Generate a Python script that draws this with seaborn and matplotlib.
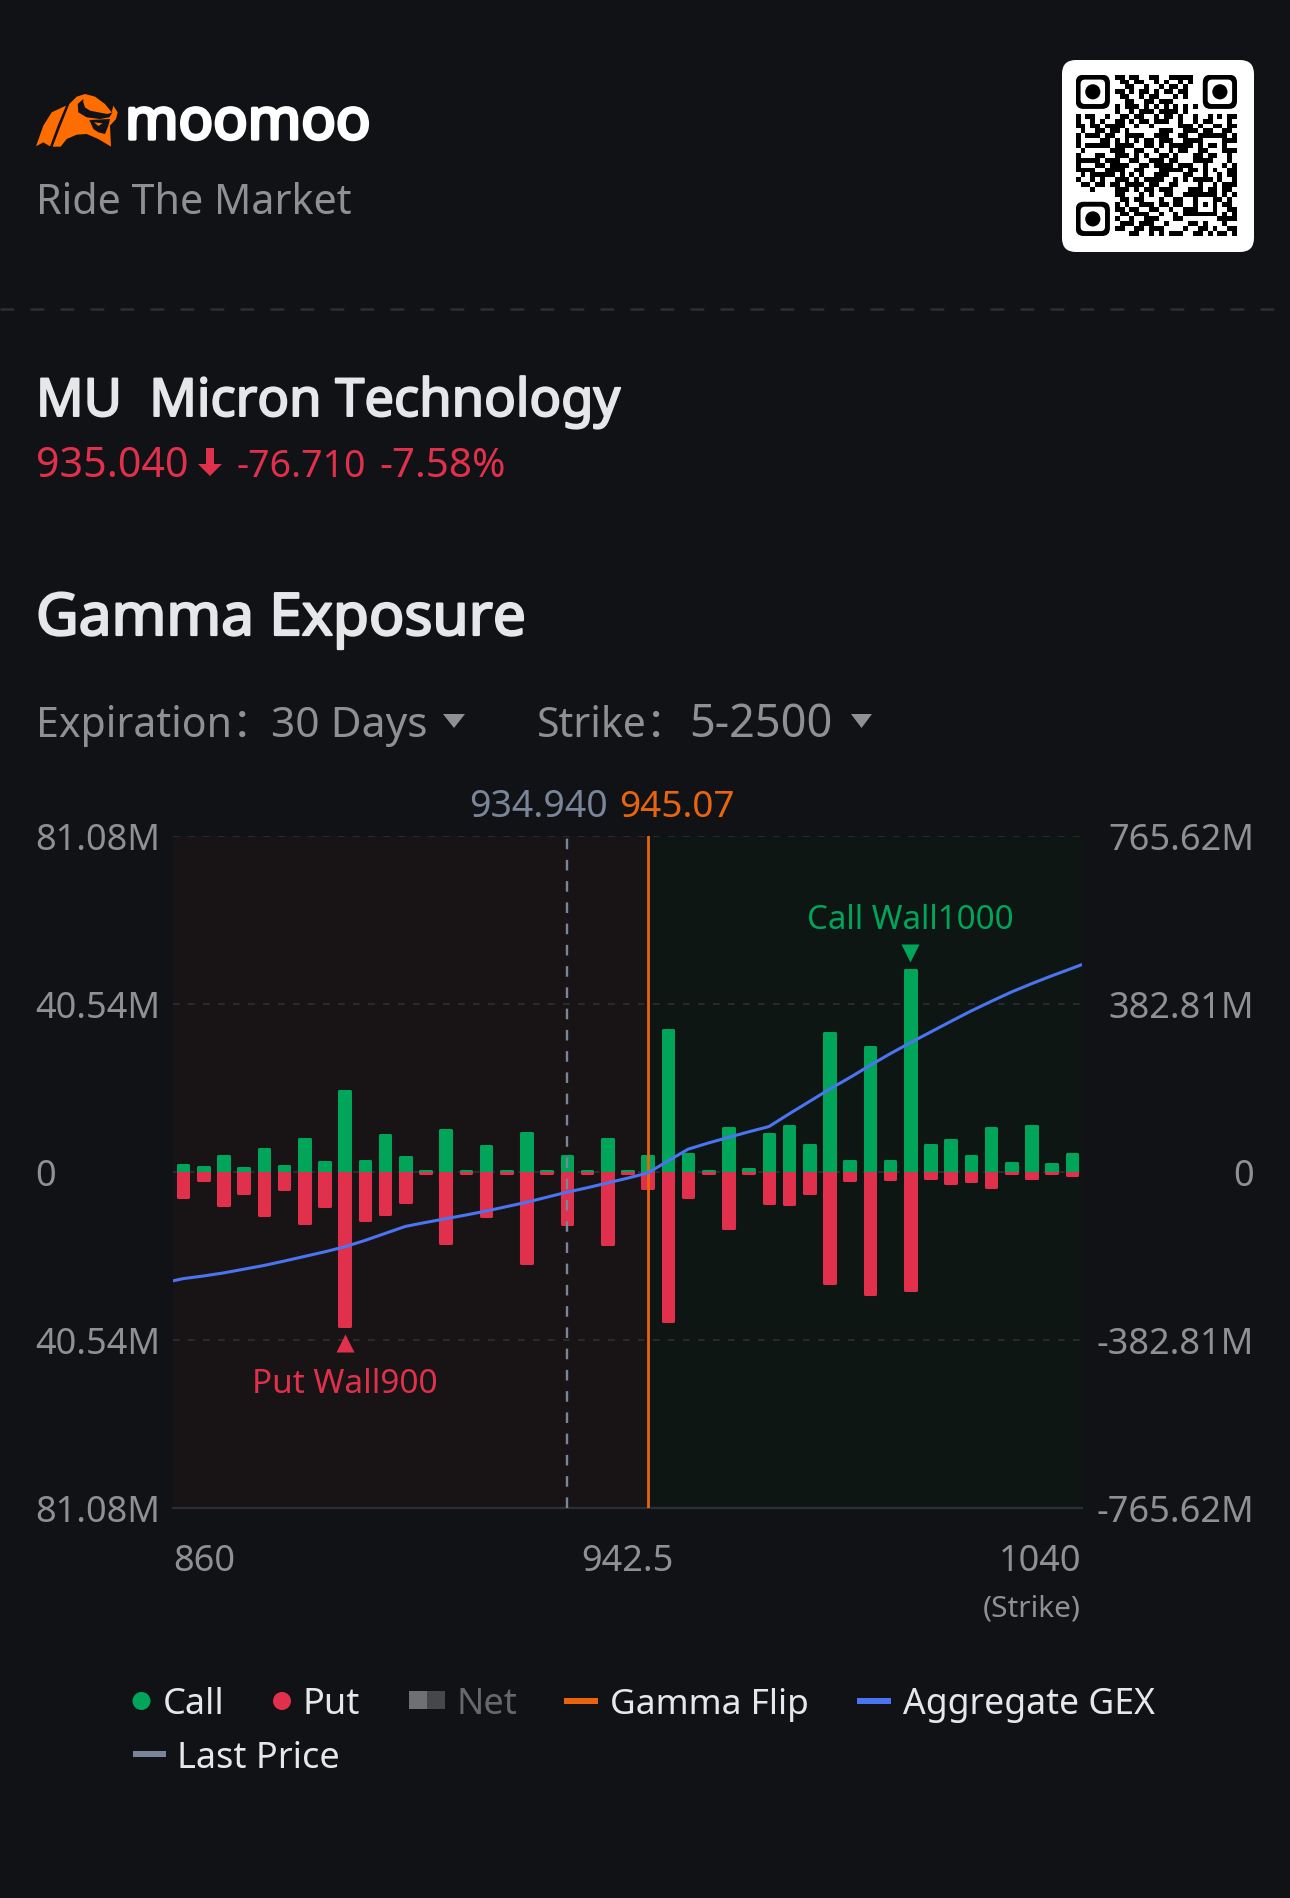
import numpy as np
import pandas as pd
import matplotlib
matplotlib.use("Agg")
import matplotlib.pyplot as plt
import matplotlib.patheffects as pe
import seaborn as sns
from matplotlib.colors import ListedColormap
from matplotlib.patches import FancyBboxPatch, Polygon, Rectangle, Circle

W, H = 1290, 1899

# data (millions)
strikes = ["860", "865", "870", "875", "880", "885", "890", "895", "900", "905", "910", "915",
           "917.5", "920", "922.5", "925", "927.5", "930", "932.5", "935", "937.5", "940", "942.5", "945",
           "950", "955", "957.5", "960", "962.5", "965", "970", "975", "980", "985", "990", "995", "1000",
           "1005", "1010", "1015", "1020", "1025", "1030", "1035", "1040"]
call_gex = [2.1, 1.5, 4.35, 1.45, 6.0, 1.9, 8.4, 2.7, 19.8, 3.1, 9.35, 3.9,
            0.7, 10.5, 0.7, 6.7, 0.7, 9.8, 0.7, 4.3, 0.7, 8.3, 0.7, 4.35,
            34.6, 4.75, 0.7, 10.9, 1.2, 9.6, 11.4, 6.9, 34.0, 3.1, 30.5, 3.1, 49.2,
            6.8, 8.2, 4.3, 11.0, 2.6, 11.4, 2.3, 4.75]
put_gex = [-6.4, -2.3, -8.4, -5.5, -10.8, -4.4, -12.7, -8.6, -37.5, -12.0, -10.6, -7.7,
           -0.6, -17.5, -0.6, -10.9, -0.6, -22.3, -0.6, -13.0, -0.6, -17.8, -0.6, -4.2,
           -36.4, -6.5, -0.6, -13.8, -0.6, -7.9, -8.1, -5.5, -27.1, -2.25, -29.7, -2.0, -28.8,
           -1.9, -3.1, -2.6, -3.9, -0.7, -1.9, -0.7, -1.0]
# aggregate GEX at each strike, right axis
agg_gex = [-243, -237, -230, -221.5, -213, -203, -192.5, -182, -170.5, -156, -140, -124,
           -115, -106.5, -98, -89, -79, -69, -57.5, -46, -36, -25, -14, -2.3,
           25, 52, 66, 79, 91.5, 103.5, 132.4, 160.5, 188.7, 215, 242.7, 269.4, 294.5,
           318.8, 343, 366.7, 388.7, 410, 429, 447, 464]
agg_left_edge = -248
agg_right_edge = 472.7

left_max = 81.08
right_max = 765.62
left_ticks = [81.08, 40.54, 0, -40.54, -81.08]
left_tick_labels = ["81.08M", "40.54M", "0", "40.54M", "81.08M"]
right_ticks = [765.62, 382.81, 0, -382.81, -765.62]
right_tick_labels = ["765.62M", "382.81M", "0", "-382.81M", "-765.62M"]
x_tick_labels = ["860", "942.5", "1040"]
flip_strike = "945"
last_strike = "935"
put_wall = "900"
call_wall = "1000"

qr_rows = [
    "111111101101100110011111001111111",
    "100000100110110010100101001000001",
    "101110100011001001011010001011101",
    "101110101101011010110110001011101",
    "101110100110010110001010001011101",
    "100000100011001101110000001000001",
    "111111101011101010101010101111111",
    "000000001001011101111010000000000",
    "101100100110110010110100100101011",
    "100101001101011011100100101100010",
    "110110111100100100000111010011011",
    "010011011010000001110011101100110",
    "101110110011110011100110011111101",
    "100001101010101101110011110000111",
    "101111101111001101011111010110100",
    "010000011100110010010110011000111",
    "100011001110101001101000110110010",
    "111110111001100111011000111100010",
    "100011011110011011110111001000101",
    "111100111100110001111101101010011",
    "010111110101010011100011001001011",
    "100101001110101111001010111101001",
    "011011011011110110011000010010111",
    "000100001110101101110001110110110",
    "000000001100010100110011111110101",
    "000000000110110001001100100011010",
    "111111101010011101101100101010110",
    "100000101101100110010011100010011",
    "101110100110111001001011111110101",
    "101110101001001110001100000001111",
    "101110100111011100100001101000100",
    "100000101100110111000010011010011",
    "111111100001100101011100110101101",
]

BG = "#101215"
GREEN = "#00A55A"
RED = "#E0304C"
ORANGE = "#E8650E"
LOGO = "#FF6D00"
BLUE = "#4A74F0"
SLATE = "#7A8599"
GREY = "#8F9093"
LIGHT = "#E6E7E9"

sns.set_theme(style="dark", rc={"axes.facecolor": BG, "figure.facecolor": BG})
plt.rcParams["font.family"] = ["Noto Sans", "Noto Sans CJK SC", "DejaVu Sans"]

fig = plt.figure(figsize=(W / 100, H / 100), dpi=100, facecolor=BG)


def px_axes(x0, y0, x1, y1, **kw):
    return fig.add_axes([x0 / W, 1 - y1 / H, (x1 - x0) / W, (y1 - y0) / H], **kw)


# page layer, pixel coordinates
page = px_axes(0, 0, W, H)
page.set_xlim(0, W)
page.set_ylim(H, 0)
page.axis("off")


def label(x, y, s, size, color=GREY, bold=0, ha="left"):
    t = page.text(x, y, s, fontsize=size, color=color, ha=ha, va="baseline")
    if bold:
        # only the regular cut gets picked up, thicken it with a stroke
        t.set_path_effects([pe.withStroke(linewidth=bold, foreground=color)])


# logo
logo_shapes = [
    ([(18, 187), (40, 125), (65, 85), (108, 65), (85, 120), (60, 187), (40, 175)], LOGO),
    ([(68, 188), (92, 125), (118, 60), (140, 38), (165, 30), (195, 38), (225, 60), (245, 85), (250, 65), (263, 85),
      (258, 105), (240, 125), (243, 188), (205, 165), (170, 150), (140, 152), (110, 165), (92, 188)], LOGO),
    ([(160, 45), (143, 60), (145, 85), (170, 100), (210, 105), (238, 100), (248, 85), (232, 90), (205, 85),
      (180, 80), (165, 70), (160, 55)], BG),
    ([(178, 108), (240, 105), (235, 125), (225, 150), (205, 145), (190, 135)], BG),
    ([(192, 115), (218, 118), (205, 126)], LOGO),
]
for pts, c in logo_shapes:
    page.add_patch(Polygon([(30 + a / 3, 85 + b / 3) for a, b in pts], closed=True, fc=c, ec="none"))
label(125, 140, "moomoo", 41.2, "#FFFFFF", bold=2.4)
label(36, 214, "Ride The Market", 29.7)

# qr code
page.add_patch(FancyBboxPatch((1074, 73), 168, 168, boxstyle="round,pad=12,rounding_size=14", fc="white", ec="none"))
qr = np.array([[int(c) for c in r.ljust(33, "0")[:33]] for r in qr_rows])
ax_qr = px_axes(1075.7, 75.7, 1237, 237)
sns.heatmap(qr, ax=ax_qr, cbar=False, cmap=ListedColormap(["white", "black"]), xticklabels=False, yticklabels=False)
for fx, fy in [(0, 0), (26, 0), (0, 26)]:
    ax_qr.add_patch(Rectangle((fx, fy), 7, 7, fc="white", ec="none"))
    ax_qr.add_patch(FancyBboxPatch((fx, fy), 7, 7, boxstyle="round,pad=0,rounding_size=1.6", fc="black", ec="none"))
    ax_qr.add_patch(FancyBboxPatch((fx + 1, fy + 1), 5, 5, boxstyle="round,pad=0,rounding_size=0.9", fc="white", ec="none"))
    ax_qr.add_patch(Circle((fx + 3.5, fy + 3.5), 1.55, fc="black", ec="none"))

page.plot([0, W], [310, 310], color="#2D2F33", lw=1.8, dashes=(5.5, 6.5))

# titles
label(36, 417, "MU  Micron Technology", 37.8, LIGHT, bold=1.4)
label(36, 477, "935.040", 29.7, RED)
page.add_patch(Polygon([(206, 449), (214, 449), (214, 465), (222, 465), (210, 477), (198, 465), (206, 465)], fc=RED, ec="none"))
label(237, 477, "-76.710", 27, RED)
label(379, 477, "-7.58%", 29, RED)
label(36, 636, "Gamma Exposure", 42.2, LIGHT, bold=1.6)

label(36, 737, "Expiration：", 29.5)
label(271, 737, "30 Days", 30.6)
page.add_patch(Polygon([(443, 715), (465, 715), (454, 729)], fc=GREY, ec="none"))
label(537, 737, "Strike：", 29.5)
label(689, 737, "5-2500", 32.5)
page.add_patch(Polygon([(851, 715), (872, 715), (861.5, 729)], fc=GREY, ec="none"))

label(469, 817, "934.940", 27, SLATE)
label(619, 817, "945.07", 26.6, ORANGE)

# chart
df = pd.DataFrame({"strike": strikes, "call": call_gex, "put": put_gex})
ax = px_axes(173, 837, 1082, 1509)
ax.set_facecolor(BG)
n = len(strikes)
idx_flip = strikes.index(flip_strike)
idx_last = strikes.index(last_strike)
ax.axvspan(-0.5, idx_flip, color="#181416", lw=0, zorder=0)
ax.axvspan(idx_flip, n - 0.5, color="#0E1614", lw=0, zorder=0)
n_spans = len(ax.patches)
for t in left_ticks[:-1]:
    ax.axhline(t, color="#2C2F32", lw=1.2, dashes=(4, 5), zorder=1)

bar_kw = dict(width=0.515, saturation=1, linewidth=2.2, order=strikes, zorder=2)
sns.barplot(data=df, x="strike", y="call", color=GREEN, edgecolor=GREEN, ax=ax, **bar_kw)
sns.barplot(data=df, x="strike", y="put", color=RED, edgecolor=RED, ax=ax, **bar_kw)
# rounded tips: fat round-join edge, pulled back so the tip stays on the value, cut off at zero
edge = 0.37
for p in ax.patches[n_spans:]:
    h = p.get_height()
    p.set_joinstyle("round")
    p.set_height(h - edge if h > 0 else h + edge)
    side = (-0.5, 0) if h > 0 else (-0.5, -left_max)
    p.set_clip_path(Rectangle(side, n, left_max, transform=ax.transData))

ax.set_xlim(-0.5, n - 0.5)
ax.set_ylim(-left_max, left_max)
ax.set_xlabel("")
ax.set_ylabel("")
ax.grid(False)
ax.set_yticks(left_ticks, left_tick_labels)
ax.tick_params(axis="y", length=0, pad=99.5, labelsize=26, labelcolor=GREY)
for t in ax.get_yticklabels():
    t.set_ha("left")
ax.set_xticks([-0.47, (n - 1) / 2, n - 0.55], x_tick_labels)
ax.tick_params(axis="x", length=0, pad=25, labelsize=26, labelcolor=GREY)
xlabs = ax.get_xticklabels()
xlabs[0].set_ha("left")
xlabs[2].set_ha("right")
for s in ["left", "right", "top"]:
    ax.spines[s].set_visible(False)
ax.spines["bottom"].set_color("#2C2F32")
ax.spines["bottom"].set_linewidth(1.6)

# second scale for the aggregate line
ax2 = ax.twinx()
ax2.set_ylim(-right_max, right_max)
ax2.grid(False)
ax2.axvline(idx_last, color=SLATE, lw=1.7, dashes=(4.5, 4.5))
ax2.axvline(idx_flip, color=ORANGE, lw=2)
line_x = [-0.5] + list(range(n)) + [n - 0.5]
line_y = [agg_left_edge] + agg_gex + [agg_right_edge]
sns.lineplot(x=line_x, y=line_y, color=BLUE, lw=2.2, ax=ax2, estimator=None, sort=False)
ax2.set_xlim(-0.5, n - 0.5)
ax2.set_ylabel("")
ax2.set_yticks(right_ticks, right_tick_labels)
ax2.tick_params(axis="y", length=0, pad=124, labelsize=26, labelcolor=GREY)
for t in ax2.get_yticklabels():
    t.set_ha("right")
for s in ax2.spines.values():
    s.set_visible(False)

# wall labels
i_call = strikes.index(call_wall)
i_put = strikes.index(put_wall)
ax.plot(i_call, max(call_gex) + 3.6, marker="v", ms=13, mfc=GREEN, mec="none", zorder=5)
ax.text(i_call, 59, "Call Wall" + call_wall, color=GREEN, fontsize=23.8, ha="center", va="baseline")
ax.plot(i_put, min(put_gex) - 3.7, marker="^", ms=13, mfc=RED, mec="none", zorder=5)
ax.text(i_put, -53.2, "Put Wall" + put_wall, color=RED, fontsize=24, ha="center", va="baseline")

label(1081, 1617, "(Strike)", 21.5, GREY, ha="right")

# legend
page.add_patch(Circle((141.5, 1702), 9, fc=GREEN, ec="none"))
label(163, 1714, "Call", 26, LIGHT)
page.add_patch(Circle((282, 1702), 9, fc=RED, ec="none"))
label(302, 1714, "Put", 26, LIGHT)
page.add_patch(Rectangle((409, 1692), 18, 18, fc="#6E7074", ec="none"))
page.add_patch(Rectangle((427, 1692), 18, 18, fc="#45474A", ec="none"))
label(456, 1714, "Net", 26, "#66686B")
page.add_patch(Rectangle((564, 1699), 34, 6, fc=ORANGE, ec="none"))
label(610, 1714, "Gamma Flip", 25.4, LIGHT)
page.add_patch(Rectangle((857, 1699), 34, 6, fc=BLUE, ec="none"))
label(903, 1714, "Aggregate GEX", 25.6, LIGHT)
page.add_patch(Rectangle((133, 1752), 33, 6, fc=SLATE, ec="none"))
label(177, 1768, "Last Price", 26, LIGHT)

fig.savefig("out.png", dpi=100, facecolor=BG)
